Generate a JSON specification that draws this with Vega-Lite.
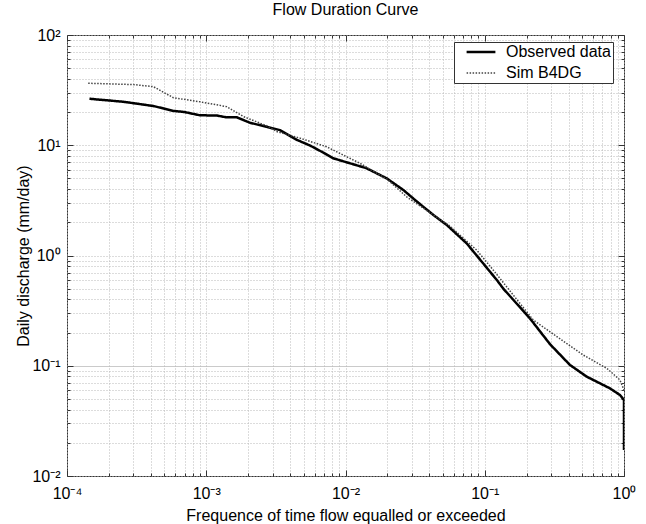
{
  "$schema": "https://vega.github.io/schema/vega-lite/v6.json",
  "width": 557,
  "height": 441,
  "autosize": "none",
  "padding": {"left": 67, "top": 35, "right": 22, "bottom": 48},
  "background": "white",
  "title": {"text": "Flow Duration Curve", "fontSize": 16, "font": "Liberation Sans", "fontWeight": "normal", "color": "#000000", "offset": 9, "anchor": "middle"},
  "config": {
    "view": {"stroke": "#333333", "strokeWidth": 1},
    "font": "Liberation Sans"
  },
  "data": {
    "values": [
      {"series": "Observed data", "k": 1, "f": 0.000145, "q": 26.4},
      {"series": "Observed data", "k": 2, "f": 0.000254, "q": 24.8},
      {"series": "Observed data", "k": 3, "f": 0.000417, "q": 22.7},
      {"series": "Observed data", "k": 4, "f": 0.00058, "q": 20.5},
      {"series": "Observed data", "k": 5, "f": 0.0007, "q": 20.0},
      {"series": "Observed data", "k": 6, "f": 0.0009, "q": 18.7},
      {"series": "Observed data", "k": 7, "f": 0.00119, "q": 18.6},
      {"series": "Observed data", "k": 8, "f": 0.0014, "q": 17.9},
      {"series": "Observed data", "k": 9, "f": 0.00166, "q": 17.9},
      {"series": "Observed data", "k": 10, "f": 0.00206, "q": 16.0},
      {"series": "Observed data", "k": 11, "f": 0.00272, "q": 14.7},
      {"series": "Observed data", "k": 12, "f": 0.00339, "q": 13.7},
      {"series": "Observed data", "k": 13, "f": 0.00447, "q": 11.2},
      {"series": "Observed data", "k": 14, "f": 0.0056, "q": 9.9},
      {"series": "Observed data", "k": 15, "f": 0.0069, "q": 8.6},
      {"series": "Observed data", "k": 16, "f": 0.00816, "q": 7.62},
      {"series": "Observed data", "k": 17, "f": 0.0142, "q": 6.18},
      {"series": "Observed data", "k": 18, "f": 0.0198, "q": 5.0},
      {"series": "Observed data", "k": 19, "f": 0.026, "q": 3.93},
      {"series": "Observed data", "k": 20, "f": 0.0324, "q": 3.1},
      {"series": "Observed data", "k": 21, "f": 0.0428, "q": 2.33},
      {"series": "Observed data", "k": 22, "f": 0.0534, "q": 1.89},
      {"series": "Observed data", "k": 23, "f": 0.0741, "q": 1.29},
      {"series": "Observed data", "k": 24, "f": 0.0875, "q": 1.0},
      {"series": "Observed data", "k": 25, "f": 0.122, "q": 0.6},
      {"series": "Observed data", "k": 26, "f": 0.136, "q": 0.5},
      {"series": "Observed data", "k": 27, "f": 0.211, "q": 0.269},
      {"series": "Observed data", "k": 28, "f": 0.294, "q": 0.157},
      {"series": "Observed data", "k": 29, "f": 0.409, "q": 0.1017},
      {"series": "Observed data", "k": 30, "f": 0.54, "q": 0.0796},
      {"series": "Observed data", "k": 31, "f": 0.792, "q": 0.0624},
      {"series": "Observed data", "k": 32, "f": 0.935, "q": 0.0543},
      {"series": "Observed data", "k": 33, "f": 1.0, "q": 0.0489},
      {"series": "Observed data", "k": 34, "f": 1.0, "q": 0.0172},
      {"series": "Sim B4DG", "k": 1, "f": 0.000142, "q": 36.5},
      {"series": "Sim B4DG", "k": 2, "f": 0.0003, "q": 35.5},
      {"series": "Sim B4DG", "k": 3, "f": 0.000417, "q": 34.0},
      {"series": "Sim B4DG", "k": 4, "f": 0.00058, "q": 27.0},
      {"series": "Sim B4DG", "k": 5, "f": 0.0009, "q": 24.8},
      {"series": "Sim B4DG", "k": 6, "f": 0.0014, "q": 22.4},
      {"series": "Sim B4DG", "k": 7, "f": 0.00185, "q": 18.2},
      {"series": "Sim B4DG", "k": 8, "f": 0.00272, "q": 15.0},
      {"series": "Sim B4DG", "k": 9, "f": 0.00321, "q": 13.3},
      {"series": "Sim B4DG", "k": 10, "f": 0.00471, "q": 11.6},
      {"series": "Sim B4DG", "k": 11, "f": 0.0073, "q": 9.7},
      {"series": "Sim B4DG", "k": 12, "f": 0.0127, "q": 6.86},
      {"series": "Sim B4DG", "k": 13, "f": 0.02, "q": 4.9},
      {"series": "Sim B4DG", "k": 14, "f": 0.0275, "q": 3.4},
      {"series": "Sim B4DG", "k": 15, "f": 0.0562, "q": 1.85},
      {"series": "Sim B4DG", "k": 16, "f": 0.0875, "q": 1.12},
      {"series": "Sim B4DG", "k": 17, "f": 0.115, "q": 0.739},
      {"series": "Sim B4DG", "k": 18, "f": 0.223, "q": 0.26},
      {"series": "Sim B4DG", "k": 19, "f": 0.329, "q": 0.184},
      {"series": "Sim B4DG", "k": 20, "f": 0.51, "q": 0.125},
      {"series": "Sim B4DG", "k": 21, "f": 0.752, "q": 0.0948},
      {"series": "Sim B4DG", "k": 22, "f": 0.935, "q": 0.0743},
      {"series": "Sim B4DG", "k": 23, "f": 1.0, "q": 0.0603}
    ]
  },
  "resolve": {"axis": {"x": "independent", "y": "independent"}},
  "layer": [
    {
      "mark": {"type": "line", "clip": true},
      "encoding": {
        "x": {
          "field": "f", "type": "quantitative",
          "scale": {"type": "log", "domain": [0.0001, 1], "nice": false},
          "axis": {
            "orient": "bottom",
            "values": [0.0001,0.0002,0.0003,0.0004,0.0005,0.0006,0.0007,0.0008,0.0009,0.001,0.002,0.003,0.004,0.005,0.006,0.007,0.008,0.009,0.01,0.02,0.03,0.04,0.05,0.06,0.07,0.08,0.09,0.1,0.2,0.3,0.4,0.5,0.6,0.7,0.8,0.9,1],
            "labelExpr": "abs(log(datum.value)/LN10 - round(log(datum.value)/LN10)) < 0.001 ? '10' + ['⁻⁴','⁻³','⁻²','⁻¹','⁰','¹','²'][round(log(datum.value)/LN10) + 4] : ''",
            "title": "Frequence of time flow equalled or exceeded",
            "titleFontSize": 16, "titleFontWeight": "normal", "titleColor": "#000000", "titlePadding": 3,
            "labelFontSize": 16, "labelColor": "#000000", "labelPadding": 15, "labelOverlap": false, "labelFlush": false,
            "ticks": true, "tickColor": "#333333", "tickWidth": 1,
            "tickSize": {"condition": {"test": "abs(log(datum.value)/LN10 - round(log(datum.value)/LN10)) < 0.001", "value": -6}, "value": -3},
            "domain": false,
            "grid": true, "gridColor": "#b8b8b8", "gridDash": [1, 2], "gridWidth": 1
          }
        },
        "y": {
          "field": "q", "type": "quantitative",
          "scale": {"type": "log", "domain": [0.01, 100], "nice": false},
          "axis": {
            "orient": "left",
            "values": [0.01,0.02,0.03,0.04,0.05,0.06,0.07,0.08,0.09,0.1,0.2,0.3,0.4,0.5,0.6,0.7,0.8,0.9,1,2,3,4,5,6,7,8,9,10,20,30,40,50,60,70,80,90,100],
            "labelExpr": "abs(log(datum.value)/LN10 - round(log(datum.value)/LN10)) < 0.001 ? '10' + ['⁻⁴','⁻³','⁻²','⁻¹','⁰','¹','²'][round(log(datum.value)/LN10) + 4] : ''",
            "title": "Daily discharge (mm/day)",
            "titleFontSize": 16, "titleFontWeight": "normal", "titleColor": "#000000", "titlePadding": 0,
            "labelFontSize": 16, "labelColor": "#000000", "labelPadding": 13, "labelOverlap": false, "labelFlush": false,
            "ticks": true, "tickColor": "#333333", "tickWidth": 1,
            "tickSize": {"condition": {"test": "abs(log(datum.value)/LN10 - round(log(datum.value)/LN10)) < 0.001", "value": -6}, "value": -3},
            "domain": false,
            "grid": true, "gridColor": "#b8b8b8", "gridWidth": 1,
            "gridDash": {"condition": {"test": "datum.value == 0.1", "value": [1, 0]}, "value": [1, 2]}
          }
        },
        "color": {
          "field": "series", "type": "nominal",
          "scale": {"domain": ["Observed data", "Sim B4DG"], "range": ["#000000", "#444444"]},
          "legend": {
            "title": null, "orient": "none", "legendX": 387, "legendY": 7,
            "fillColor": "white", "strokeColor": "#333333", "padding": 2,
            "labelFontSize": 16, "labelColor": "#000000", "labelOffset": 17,
            "symbolType": "M-2.4,0H2.4", "symbolSize": 144, "symbolOffset": 17, "rowPadding": 5
          }
        },
        "strokeDash": {
          "field": "series", "type": "nominal",
          "scale": {"domain": ["Observed data", "Sim B4DG"], "range": [[1, 0], [1.5, 1.5]]},
          "legend": {"title": null}
        },
        "strokeWidth": {
          "field": "series", "type": "nominal",
          "scale": {"domain": ["Observed data", "Sim B4DG"], "range": [2.5, 1.5]},
          "legend": {"title": null}
        },
        "order": {"field": "k"}
      }
    },
    {
      "mark": {"type": "line", "opacity": 0},
      "encoding": {
        "x": {
          "field": "f", "type": "quantitative",
          "axis": {
            "orient": "top",
            "values": [0.0001,0.0002,0.0003,0.0004,0.0005,0.0006,0.0007,0.0008,0.0009,0.001,0.002,0.003,0.004,0.005,0.006,0.007,0.008,0.009,0.01,0.02,0.03,0.04,0.05,0.06,0.07,0.08,0.09,0.1,0.2,0.3,0.4,0.5,0.6,0.7,0.8,0.9,1],
            "labels": false, "title": null, "domain": false, "grid": false,
            "ticks": true, "tickColor": "#333333", "tickWidth": 1,
            "tickSize": {"condition": {"test": "abs(log(datum.value)/LN10 - round(log(datum.value)/LN10)) < 0.001", "value": -6}, "value": -3}
          }
        },
        "y": {
          "field": "q", "type": "quantitative",
          "axis": {
            "orient": "right",
            "values": [0.01,0.02,0.03,0.04,0.05,0.06,0.07,0.08,0.09,0.1,0.2,0.3,0.4,0.5,0.6,0.7,0.8,0.9,1,2,3,4,5,6,7,8,9,10,20,30,40,50,60,70,80,90,100],
            "labels": false, "title": null, "domain": false, "grid": false,
            "ticks": true, "tickColor": "#333333", "tickWidth": 1,
            "tickSize": {"condition": {"test": "abs(log(datum.value)/LN10 - round(log(datum.value)/LN10)) < 0.001", "value": -6}, "value": -3}
          }
        },
        "detail": {"field": "series", "type": "nominal"},
        "order": {"field": "k"}
      }
    }
  ]
}
